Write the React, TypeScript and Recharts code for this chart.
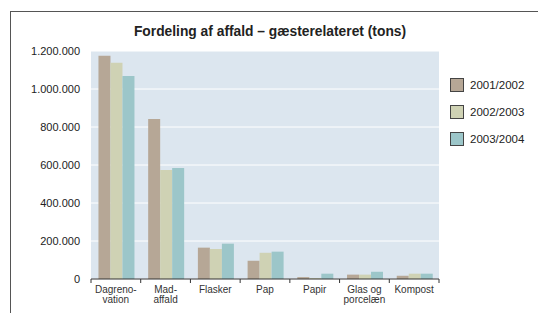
import React from 'react';
import { BarChart, Bar, XAxis, YAxis, CartesianGrid, Legend } from 'recharts';

const categories = ['Dagreno-\nvation', 'Mad-\naffald', 'Flasker', 'Pap', 'Papir', 'Glas og\nporcelæn', 'Kompost'];
const seriesNames = ['2001/2002', '2002/2003', '2003/2004'];
const y2001 = [1175000, 842000, 165000, 96000, 10000, 23000, 17000];
const y2002 = [1138000, 574000, 158000, 138000, 5000, 23000, 28000];
const y2003 = [1068000, 584000, 186000, 144000, 28000, 38000, 28000];
const yTicks = [0, 200000, 400000, 600000, 800000, 1000000, 1200000];

const colors = ['#b6a796', '#cfd2b4', '#9cc6c9'];
const FONT = '"Liberation Sans", Arial, Helvetica, sans-serif';

const data = categories.map((name, i) => ({
  name,
  s0: y2001[i],
  s1: y2002[i],
  s2: y2003[i],
}));

const fmt = (v: number) => String(v).replace(/\B(?=(\d{3})+(?!\d))/g, '.');

// ticks sit on the category boundaries, labels in the middle
const CategoryTick = (props: any) => {
  const { x, y, payload, index, visibleTicksCount } = props;
  const half = payload && payload.offset ? payload.offset : 24.9;
  const lines = String(payload.value).split('\n');
  const last = index === (visibleTicksCount ?? categories.length) - 1;
  return (
    <g>
      <line x1={x - half} x2={x - half} y1={y} y2={y + 4} stroke="#333" strokeWidth={1} />
      {last && <line x1={x + half} x2={x + half} y1={y} y2={y + 4} stroke="#333" strokeWidth={1} />}
      <text x={x} y={y} textAnchor="middle" fontSize={10} fill="#333" fontFamily={FONT}>
        {lines.map((l, i) => (
          <tspan key={i} x={x} dy={i === 0 ? 13.5 : 10.5}>
            {l}
          </tspan>
        ))}
      </text>
    </g>
  );
};

const LegendBox = () => (
  <div style={{ fontFamily: FONT, fontSize: 11.5, color: '#222' }}>
    {seriesNames.map((n, i) => (
      <div key={n} style={{ display: 'flex', alignItems: 'center', height: 27 }}>
        <div
          style={{
            width: 12,
            height: 12,
            background: colors[i],
            border: '1px solid #444',
            marginRight: 6,
          }}
        />
        <span>{n}</span>
      </div>
    ))}
  </div>
);

export default function App() {
  return (
    <div style={{ position: 'absolute', left: 0, top: 0, width: 538, height: 313, background: '#fff' }}>
      <div
        style={{
          position: 'absolute',
          left: 10,
          top: 11,
          width: 528,
          height: 302,
          borderTop: '1.5px solid #555',
          borderLeft: '1.5px solid #555',
          boxSizing: 'border-box',
        }}
      />
      <div
        style={{
          position: 'absolute',
          left: 91,
          width: 358,
          top: 24,
          textAlign: 'center',
          fontFamily: FONT,
          fontWeight: 'bold',
          fontSize: 13.8,
          color: '#222',
        }}
      >
        Fordeling af affald – gæsterelateret (tons)
      </div>
      <div style={{ position: 'absolute', left: 0, top: 0 }}>
        <BarChart
          width={538}
          height={313}
          data={data}
          margin={{ top: 51, right: 99, left: 0, bottom: 0 }}
          barCategoryGap="15%"
          barGap={0}
        >
          <CartesianGrid horizontal vertical={false} stroke="#ffffff" strokeWidth={1} fill="#dce6ef" />
          <XAxis
            dataKey="name"
            height={34}
            tickLine={false}
            tickSize={0}
            tickMargin={0}
            axisLine={{ stroke: '#333', strokeWidth: 1 }}
            interval={0}
            tick={<CategoryTick />}
          />
          <YAxis
            width={91}
            domain={[0, 1200000]}
            ticks={yTicks}
            axisLine={false}
            tickLine={false}
            tickSize={0}
            tickMargin={11}
            tickFormatter={fmt}
            tick={{ fill: '#222', fontSize: 11, fontFamily: FONT }}
          />
          <Legend
            layout="vertical"
            verticalAlign="middle"
            align="center"
            wrapperStyle={{ left: 450, top: 71, width: 90 }}
            content={<LegendBox />}
          />
          <Bar dataKey="s0" name={seriesNames[0]} fill={colors[0]} isAnimationActive={false} />
          <Bar dataKey="s1" name={seriesNames[1]} fill={colors[1]} isAnimationActive={false} />
          <Bar dataKey="s2" name={seriesNames[2]} fill={colors[2]} isAnimationActive={false} />
        </BarChart>
      </div>
    </div>
  );
}
